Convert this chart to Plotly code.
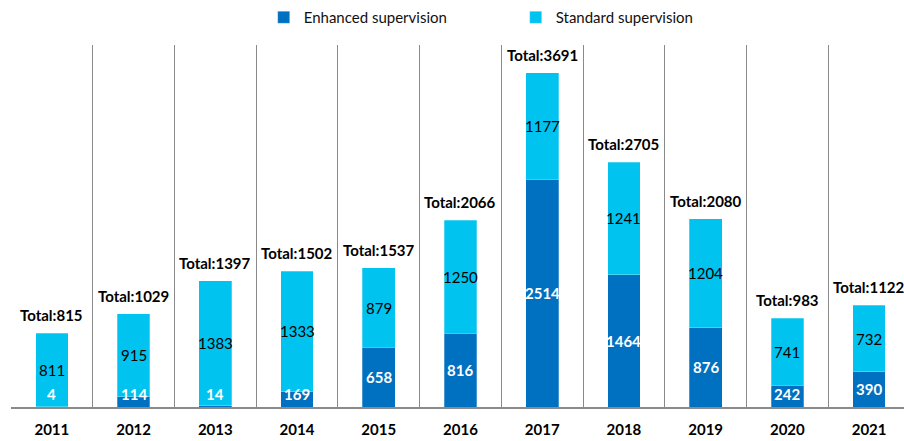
import plotly.graph_objects as go

years = ["2011", "2012", "2013", "2014", "2015", "2016", "2017", "2018", "2019", "2020", "2021"]
enhanced = [4, 114, 14, 169, 658, 816, 2514, 1464, 876, 242, 390]
standard = [811, 915, 1383, 1333, 879, 1250, 1177, 1241, 1204, 741, 732]
totals = [815, 1029, 1397, 1502, 1537, 2066, 3691, 2705, 2080, 983, 1122]

DARK = "#0070C0"
LIGHT = "#00C3F0"
FONT = "Lato"

fig = go.Figure()
fig.add_trace(go.Bar(x=years, y=enhanced, name="Enhanced supervision",
                     marker=dict(color=DARK, line=dict(color="rgba(255,255,255,0.45)", width=0.6)),
                     width=0.4))
fig.add_trace(go.Bar(x=years, y=standard, name="Standard supervision",
                     marker=dict(color=LIGHT, line=dict(color="rgba(255,255,255,0.45)", width=0.6)),
                     width=0.4))

ann = []
for i, (e, s, t) in enumerate(zip(enhanced, standard, totals)):
    ann.append(dict(x=i, y=max(e / 2, 140), text=str(e), showarrow=False,
                    font=dict(family=FONT, size=15, color="white", weight="bold")))
    ann.append(dict(x=i, y=e + s / 2, text=str(s), showarrow=False,
                    font=dict(family=FONT, size=15, color="black")))
    ann.append(dict(x=i, y=t, text="Total:" + str(t), showarrow=False, yanchor="bottom",
                    yshift=7, font=dict(family=FONT, size=15, color="black", weight="bold")))

fig.update_layout(
    barmode="stack",
    width=904, height=441,
    margin=dict(l=11, r=0, t=45, b=34, autoexpand=False),
    paper_bgcolor="white", plot_bgcolor="white",
    font=dict(family=FONT, size=14, color="black"),
    annotations=ann,
    legend=dict(orientation="h", x=0.283, xanchor="left", y=1.1215, yanchor="top",
                font=dict(family=FONT, size=15, color="#111111"),
                entrywidth=207, traceorder="normal"),
)
fig.update_xaxes(type="category", tickson="boundaries", showgrid=True, gridcolor="#8A8A8A",
                 gridwidth=1.3, ticks="", range=[-0.5, 10.427], automargin=False,
                 showline=True, linecolor="#8A8A8A", linewidth=2, ticklabelstandoff=8,
                 tickfont=dict(family=FONT, size=15, color="black", weight="bold"))
fig.update_yaxes(range=[0, 4000], showgrid=False, showticklabels=False, zeroline=False,
                 automargin=False)

fig.write_html("out.html", config={"displayModeBar": False},
               post_script="document.body.style.margin='0';document.body.style.overflow='hidden';")
